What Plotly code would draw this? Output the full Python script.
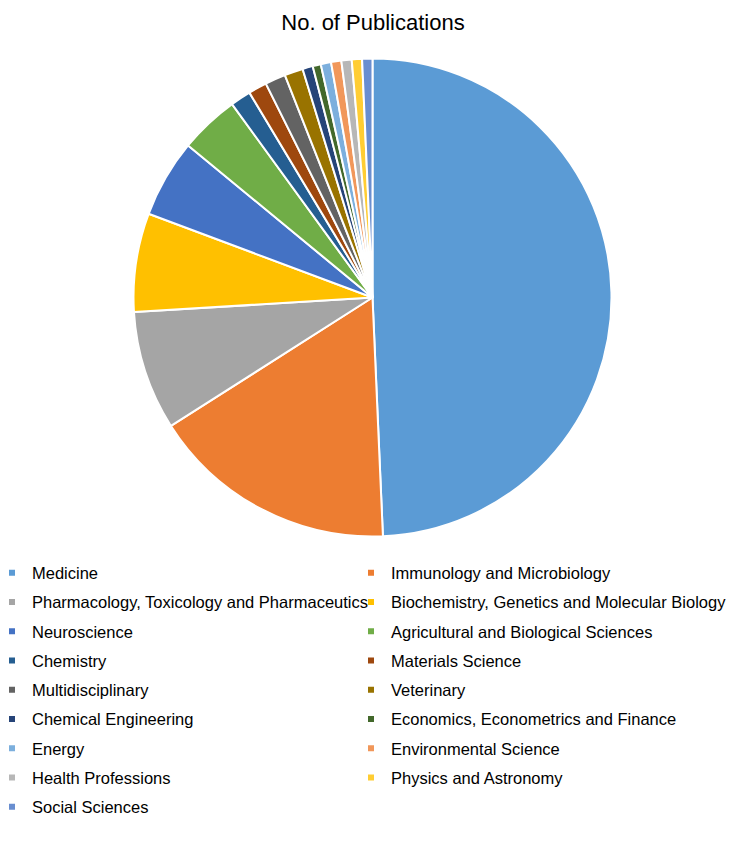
import plotly.graph_objects as go

labels = [
    "Medicine", "Immunology and Microbiology",
    "Pharmacology, Toxicology and Pharmaceutics", "Biochemistry, Genetics and Molecular Biology",
    "Neuroscience", "Agricultural and Biological Sciences",
    "Chemistry", "Materials Science",
    "Multidisciplinary", "Veterinary",
    "Chemical Engineering", "Economics, Econometrics and Finance",
    "Energy", "Environmental Science",
    "Health Professions", "Physics and Astronomy",
    "Social Sciences",
]
values = [355, 120, 58, 48, 38, 29, 10, 9, 10, 9, 5, 4, 5, 5, 5, 5, 5]
colors = [
    "#5B9BD5", "#ED7D31", "#A5A5A5", "#FFC000", "#4472C4", "#70AD47",
    "#255E91", "#9E480E", "#636363", "#997300", "#264478", "#43682B",
    "#7CAFDD", "#F1975A", "#B7B7B7", "#FFCD33", "#698ED0",
]
title = "No. of Publications"

W, H = 753, 860
FONT = "Liberation Sans, Arial, sans-serif"

fig = go.Figure()
fig.add_trace(go.Pie(
    labels=labels, values=values, sort=False, direction="clockwise", rotation=0,
    marker=dict(colors=colors, line=dict(color="white", width=2)),
    textinfo="none", showlegend=False,
    domain=dict(x=[133.5 / W, 611.5 / W], y=[1 - 536.5 / H, 1 - 58.5 / H]),
))

# legend entries (two columns, like the original)
for i, (lab, col) in enumerate(zip(labels, colors)):
    fig.add_trace(go.Scatter(
        x=[None], y=[None], mode="markers", name=lab,
        marker=dict(symbol="square", size=6, color=col),
        legend="legend" if i % 2 == 0 else "legend2",
        legendgroup=f"g{i}", hoverinfo="skip",
    ))

leg_common = dict(
    orientation="v", yanchor="top", xanchor="left",
    font=dict(family=FONT, size=16.5, color="#000000"),
    bgcolor="rgba(0,0,0,0)", tracegroupgap=4.8, itemclick=False,
)
fig.update_layout(
    width=W, height=H,
    margin=dict(l=0, r=0, t=0, b=0, autoexpand=False),
    paper_bgcolor="white", plot_bgcolor="white",
    font=dict(family=FONT, color="#000000"),
    title=dict(text=title, x=373 / W, xanchor="center", y=1 - 22 / H, yanchor="middle",
               font=dict(family=FONT, size=22, color="#000000")),
    xaxis=dict(visible=False), yaxis=dict(visible=False),
    legend=dict(x=-8 / W, y=1 - 555.5 / H, **leg_common),
    legend2=dict(x=351 / W, y=1 - 555.5 / H, **leg_common),
)
fig.write_html("out.html")
